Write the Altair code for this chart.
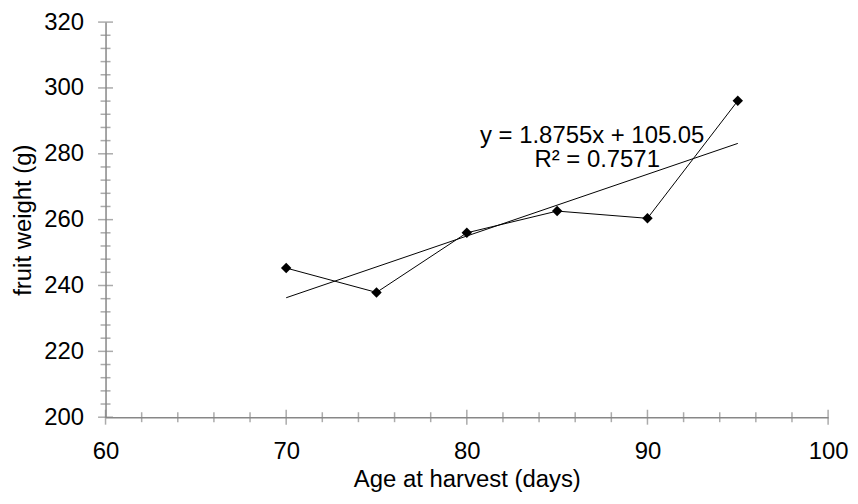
import altair as alt
import pandas as pd

# ---- data ----
ages = [70, 75, 80, 85, 90, 95]
weights = [245.3, 237.9, 256.0, 262.6, 260.4, 296.1]

x_major = [60, 70, 80, 90, 100]
x_minor = [62, 64, 66, 68, 72, 74, 76, 78, 82, 84, 86, 88, 92, 94, 96, 98]
y_major = [200, 220, 240, 260, 280, 300, 320]
y_minor = [204, 208, 212, 216, 224, 228, 232, 236, 244, 248, 252, 256,
           264, 268, 272, 276, 284, 288, 292, 296, 304, 308, 312, 316]

eq_text = "y = 1.8755x + 105.05"
r2_text = "R² = 0.7571"

x_title = "Age at harvest (days)"
y_title = "fruit weight (g)"

# ---- tables ----
df = pd.DataFrame({"age": ages, "weight": weights})
xt_major = pd.DataFrame({"age": x_major})
xt_minor = pd.DataFrame({"age": x_minor})
yt_major = pd.DataFrame({"weight": y_major})
yt_minor = pd.DataFrame({"weight": y_minor})
one = pd.DataFrame({"eq": [eq_text], "r2": [r2_text]})

FONT = "Liberation Sans"
FS = 24
GRAY = "#878787"

xscale = alt.Scale(domain=[60, 100], nice=False, zero=False)
yscale = alt.Scale(domain=[200, 320], nice=False, zero=False)

x_axis = alt.Axis(values=x_major, ticks=False, grid=False, domainColor=GRAY,
                  domainWidth=1.5, labelFontSize=FS, labelFont=FONT,
                  labelColor="black", labelPadding=22, labelFlush=False,
                  labelOverlap=False, titleFontSize=FS,
                  titleFont=FONT, titleFontWeight="normal", titleColor="black",
                  titlePadding=5, format="d")
y_axis = alt.Axis(values=y_major, ticks=False, grid=False, domainColor=GRAY,
                  domainWidth=1.5, labelFontSize=FS, labelFont=FONT,
                  labelColor="black", labelPadding=22, labelFlush=False,
                  labelOverlap=False, titleFontSize=FS,
                  titleFont=FONT, titleFontWeight="normal", titleColor="black",
                  titlePadding=8, format="d")

X = dict(scale=xscale, axis=x_axis, title=x_title)
Y = dict(scale=yscale, axis=y_axis, title=y_title)

base = alt.Chart(df)

line = base.mark_line(color="black", strokeWidth=1).encode(
    x=alt.X("age:Q", **X),
    y=alt.Y("weight:Q", **Y),
)

points = base.mark_point(shape="diamond", filled=True, size=110,
                         color="black", opacity=1).encode(
    x=alt.X("age:Q", **X),
    y=alt.Y("weight:Q", **Y),
)

trend = base.transform_regression(
    "age", "weight", method="linear", extent=[70, 95]
).mark_line(color="black", strokeWidth=1).encode(
    x=alt.X("age:Q", **X),
    y=alt.Y("weight:Q", **Y),
)

def xticks(data, length):
    return alt.Chart(data).mark_tick(orient="vertical", size=length,
                                     thickness=1.5, color=GRAY).encode(
        x=alt.X("age:Q", **X),
        y=alt.YDatum(200, type="quantitative", **Y),
    )

def yticks(data, length):
    return alt.Chart(data).mark_tick(orient="horizontal", size=length,
                                     thickness=1.5, color=GRAY).encode(
        y=alt.Y("weight:Q", **Y),
        x=alt.XDatum(60, type="quantitative", **X),
    )

eq = alt.Chart(one).mark_text(font=FONT, fontSize=FS, color="black",
                              align="center", baseline="alphabetic").encode(
    x=alt.value(489), y=alt.value(121), text="eq:N")
r2 = alt.Chart(one).mark_text(font=FONT, fontSize=FS, color="black",
                              align="center", baseline="alphabetic").encode(
    x=alt.value(494), y=alt.value(146), text="r2:N")

chart = alt.layer(
    xticks(xt_minor, 10), xticks(xt_major, 15),
    yticks(yt_minor, 10), yticks(yt_major, 15),
    trend, line, points, eq, r2,
).properties(
    width=726, height=397,
    autosize=alt.AutoSizeParams(type="none"),
    padding={"left": 98, "top": 13, "right": 22, "bottom": 74},
).configure_view(stroke=None)

chart.save("out.html", embed_options={"renderer": "svg", "actions": False})
